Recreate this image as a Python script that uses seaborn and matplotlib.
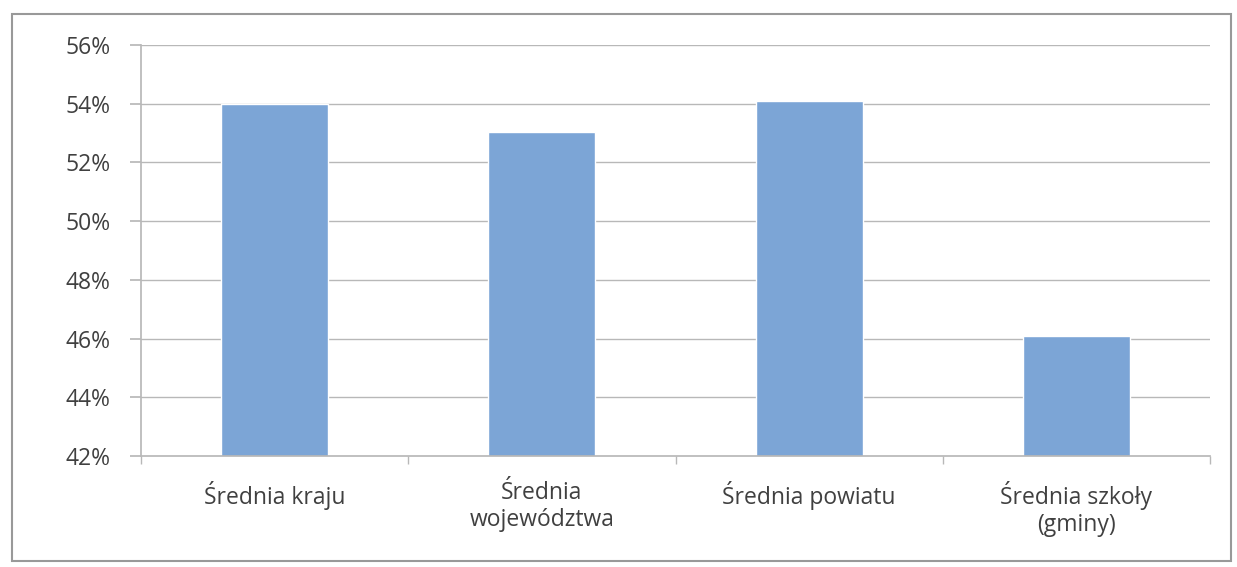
import matplotlib
matplotlib.use("Agg")
import matplotlib.pyplot as plt
import seaborn as sns
import pandas as pd
from matplotlib.patches import Rectangle
from matplotlib.ticker import FuncFormatter

categories = ["Średnia kraju", "Średnia\nwojewództwa", "Średnia powiatu", "Średnia szkoły\n(gminy)"]
values = [54.0, 53.05, 54.1, 46.1]
yticks = [42, 44, 46, 48, 50, 52, 54, 56]

sns.set_theme(style="white")
plt.rcParams['font.family'] = ['Open Sans', 'DejaVu Sans']

fig = plt.figure(figsize=(12.37, 5.67), dpi=100)
ax = fig.add_axes([141/1237, 1-456/567, (1210-141)/1237, (456-45)/567])

df = pd.DataFrame({"cat": categories, "val": values})
sns.barplot(data=df, x="cat", y="val", color="#7ca5d6", width=0.4, ax=ax, saturation=1)

ax.set_ylim(42, 56)
ax.set_yticks(yticks)
ax.yaxis.set_major_formatter(FuncFormatter(lambda v, p: f"{v:.0f}%"))
ax.set_xlabel("")
ax.set_ylabel("")
ax.set_xlim(-0.5, 3.5)
for y in yticks[1:]:
    ax.axhline(y, color="#b8b8b8", lw=1, zorder=0)
ax.set_axisbelow(True)
for s in ["top", "right"]:
    ax.spines[s].set_visible(False)
ax.spines["left"].set_color("#b8b8b8")
ax.spines["bottom"].set_color("#b8b8b8")
ax.tick_params(axis="y", which="major", left=True, length=8, color="#b8b8b8", labelsize=16.5, labelcolor="#404040", pad=14)
ax.tick_params(axis="x", which="major", bottom=False, labelsize=16.5, labelcolor="#404040", pad=12)
ax.set_xticks([-0.5, 0.5, 1.5, 2.5, 3.5], minor=True)
ax.tick_params(axis="x", which="minor", bottom=True, length=6, color="#b8b8b8", direction="out")
fig.canvas.draw()
for lab in ax.get_xticklabels():
    lab.set_linespacing(1.15)

fig.patches.append(Rectangle((12/1237, 1-561/567), (1231-12)/1237, (561-14)/567,
                             transform=fig.transFigure, fill=False, edgecolor="#999999", lw=1.5))
fig.savefig("out.png", dpi=100, facecolor="white")
